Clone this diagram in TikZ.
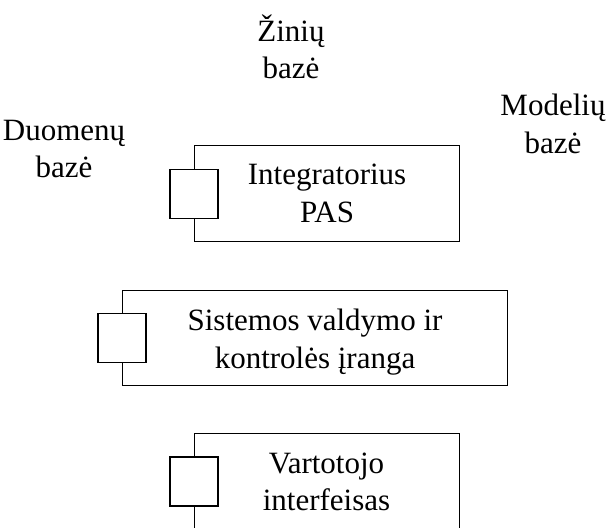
\documentclass[tikz,border=0pt]{standalone}
\usepackage{fontspec}
\setmainfont{Liberation Serif}
\begin{document}
\begin{tikzpicture}[x=1pt,y=-1pt,
  compbox/.style={draw, line width=1.1pt, fill=white, inner sep=0pt, anchor=north west},
  port/.style={draw, line width=1.1pt, fill=white, inner sep=0pt,
               minimum width=48pt, minimum height=49pt},
  txt/.style={font=\fontsize{31}{37.5}\selectfont, align=center, inner sep=0pt}]
\useasboundingbox (0,0) rectangle (612,527);
\clip (0,0) rectangle (612,527);

% data sources above the components
\node[txt] (kb) at (291,47) {Žinių\\bazė};
\node[txt] (db) at (64,149) {Duomenų\\bazė};
\node[txt] (mb) at (553,124) {Modelių\\bazė};

% integrator component
\node[compbox, minimum width=265pt, minimum height=96pt] (integ) at (194,145) {};
\node[port] (integport) at (integ.west) {};
\node[txt] (integtxt) at (integ.center) {Integratorius\\PAS};

% control equipment component
\node[compbox, minimum width=385pt, minimum height=95pt] (ctrl) at (122,290) {};
\node[port] (ctrlport) at (ctrl.west) {};
\node[txt] (ctrltxt) at ([yshift=-4pt]ctrl.center) {Sistemos valdymo ir\\kontrolės įranga};

% user interface component (continues past the lower edge)
\node[compbox, minimum width=265pt, minimum height=97pt] (ui) at (194,433) {};
\node[port] (uiport) at (194,481.5) {};
\node[txt] (uitxt) at (326.5,482) {Vartotojo\\interfeisas};
\end{tikzpicture}
\end{document}
